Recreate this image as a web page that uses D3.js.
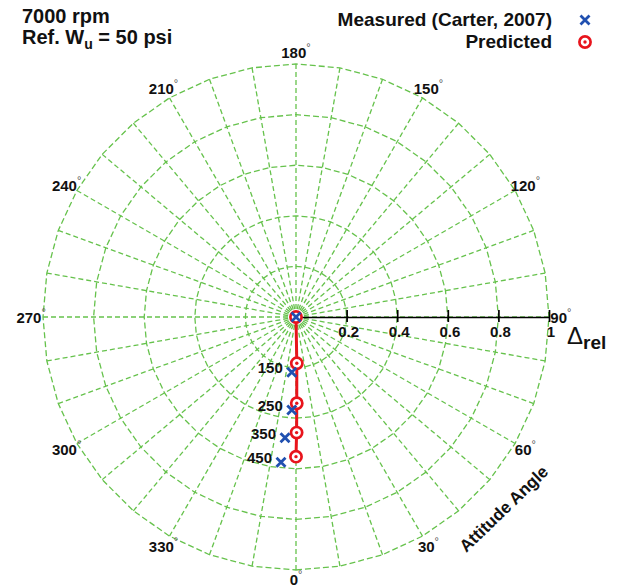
<!DOCTYPE html>
<html>
<head>
<meta charset="utf-8">
<script src="https://cdn.jsdelivr.net/npm/d3@7/dist/d3.min.js"></script>
<style>
  html, body { margin: 0; padding: 0; background: #fff; }
  svg text { font-family: "Liberation Sans", Arial, sans-serif; font-weight: bold; fill: #111; }
</style>
</head>
<body>
<svg id="chart" width="618" height="588"></svg>
<script>
// Applied loads (psi) for each operating point; 0 is the unloaded centre
const loads = [0, 150, 250, 350, 450];
// Measured journal positions (Carter, 2007): attitude angle (deg) and relative eccentricity
const measuredAngle = [0, 355.6, 357.4, 354.8, 354.1];
const measuredDelta = [0, 0.219, 0.368, 0.479, 0.577];
// Predicted journal positions
const predictedAngle = [0, 1.0, 0.5, 0.3, 0.0];
const predictedDelta = [0, 0.183, 0.341, 0.457, 0.552];
// Grid definition
const ringValues = [0.2, 0.4, 0.6, 0.8, 1.0];
const tickValues = [0.2, 0.4, 0.6, 0.8, 1];
const angleLabels = [0, 30, 60, 90, 120, 150, 180, 210, 240, 270, 300, 330];

const svg = d3.select("#chart");
const cx = 296, cy = 317, R = 253;
const r = d3.scaleLinear().domain([0, 1]).range([0, R]);
const deg = d3.scaleLinear().domain([0, 360]).range([0, 2 * Math.PI]);

// 0 deg points down, angles grow counter-clockwise (90 deg to the right)
function pos(a, v) {
  const t = deg(a);
  return [cx + r(v) * Math.sin(t), cy + r(v) * Math.cos(t)];
}

const gridColor = "#66c24c";
const grid = svg.append("g");
const spokes = d3.range(0, 360, 10);

// Rings drawn as polygons through the spoke angles
ringValues.forEach(v => {
  const pts = spokes.map(a => pos(a, v));
  grid.append("path")
    .attr("d", d3.line().curve(d3.curveLinearClosed)(pts))
    .attr("fill", "none").attr("stroke", gridColor)
    .attr("stroke-width", 1.3).attr("stroke-dasharray", "6,3");
});

// Spokes every 10 degrees
spokes.forEach(a => {
  const p = pos(a, 1);
  grid.append("line")
    .attr("x1", cx).attr("y1", cy).attr("x2", p[0]).attr("y2", p[1])
    .attr("stroke", gridColor).attr("stroke-width", 1.3)
    .attr("stroke-dasharray", "5,3");
});

// Angle labels
angleLabels.forEach(a => {
  const p = pos(a, a === 0 ? 1.035 : 1.047);
  const t = svg.append("text")
    .attr("x", p[0]).attr("y", p[1])
    .attr("text-anchor", "middle").attr("dominant-baseline", "central")
    .attr("font-size", 15);
  t.append("tspan").text(a);
  t.append("tspan").text("°").attr("font-size", 11).attr("font-weight", "normal")
    .attr("fill", "#555").attr("dy", -5);
});

// Radial axis along 90 degrees
const axis = d3.axisBottom(r).tickValues(tickValues).tickSizeOuter(0).tickSizeInner(0)
  .tickFormat(d => d === 1 ? "1" : d3.format(".1f")(d));
const ag = svg.append("g").attr("transform", `translate(${cx},${cy})`).call(axis);
ag.select(".domain").attr("stroke", "#000").attr("stroke-width", 1.7);
ag.selectAll(".tick line").attr("y1", 5).attr("y2", -7).attr("stroke", "#000").attr("stroke-width", 1.7);
ag.selectAll(".tick text").attr("y", 20).attr("dy", 0).attr("dx", 1.5)
  .attr("font-size", 15).attr("font-family", "Liberation Sans, Arial, sans-serif")
  .attr("font-weight", "bold").attr("fill", "#111");

// Delta_rel axis title
const dl = svg.append("text").attr("x", 567).attr("y", 344);
dl.append("tspan").text("Δ").attr("font-size", 24).attr("font-weight", "normal");
dl.append("tspan").text("rel").attr("font-size", 19).attr("dy", 5);

// Attitude angle caption
svg.append("text").attr("transform", "translate(504,509) rotate(-44)")
  .attr("text-anchor", "middle").attr("dominant-baseline", "central")
  .attr("font-size", 17).text("Attitude Angle");

// Predicted locus line
const red = "#e8141c", blue = "#2050b0";
const predPts = predictedAngle.map((a, i) => pos(a, predictedDelta[i]));
svg.append("path").attr("d", d3.line()(predPts))
  .attr("fill", "none").attr("stroke", red).attr("stroke-width", 3);

function predictedMarker(g, x, y) {
  g.append("circle").attr("cx", x).attr("cy", y).attr("r", 5.6)
    .attr("fill", "#fff").attr("stroke", red).attr("stroke-width", 2.7);
  g.append("circle").attr("cx", x).attr("cy", y).attr("r", 1.7).attr("fill", red);
}
function measuredMarker(g, x, y) {
  const s = 4.5;
  g.append("path").attr("d", `M${x - s},${y - s}L${x + s},${y + s}M${x - s},${y + s}L${x + s},${y - s}`)
    .attr("stroke", blue).attr("stroke-width", 2.8).attr("fill", "none");
}

const marks = svg.append("g");
predPts.forEach(p => predictedMarker(marks, p[0], p[1]));
const measPts = measuredAngle.map((a, i) => pos(a, measuredDelta[i]));
measPts.forEach(p => measuredMarker(marks, p[0], p[1]));

// Load labels next to the measured points
loads.forEach((L, i) => {
  if (L === 0) return;
  svg.append("text").attr("x", measPts[i][0] - 9).attr("y", measPts[i][1] + 1)
    .attr("text-anchor", "end").attr("font-size", 15).text(L);
});

// Title
const title = svg.append("g");
title.append("text").attr("x", 22).attr("y", 23).attr("font-size", 20).text("7000 rpm");
const t2 = title.append("text").attr("x", 22).attr("y", 44).attr("font-size", 20);
t2.append("tspan").text("Ref. W");
t2.append("tspan").text("u").attr("font-size", 14).attr("dy", 5);
t2.append("tspan").text(" = 50 psi").attr("dy", -5);

// Legend
const lg = svg.append("g");
lg.append("text").attr("x", 552).attr("y", 26).attr("text-anchor", "end").attr("font-size", 19)
  .text("Measured (Carter, 2007)");
lg.append("text").attr("x", 552).attr("y", 48).attr("text-anchor", "end").attr("font-size", 19)
  .text("Predicted");
measuredMarker(lg, 585, 20);
predictedMarker(lg, 585, 42);
</script>
</body>
</html>
